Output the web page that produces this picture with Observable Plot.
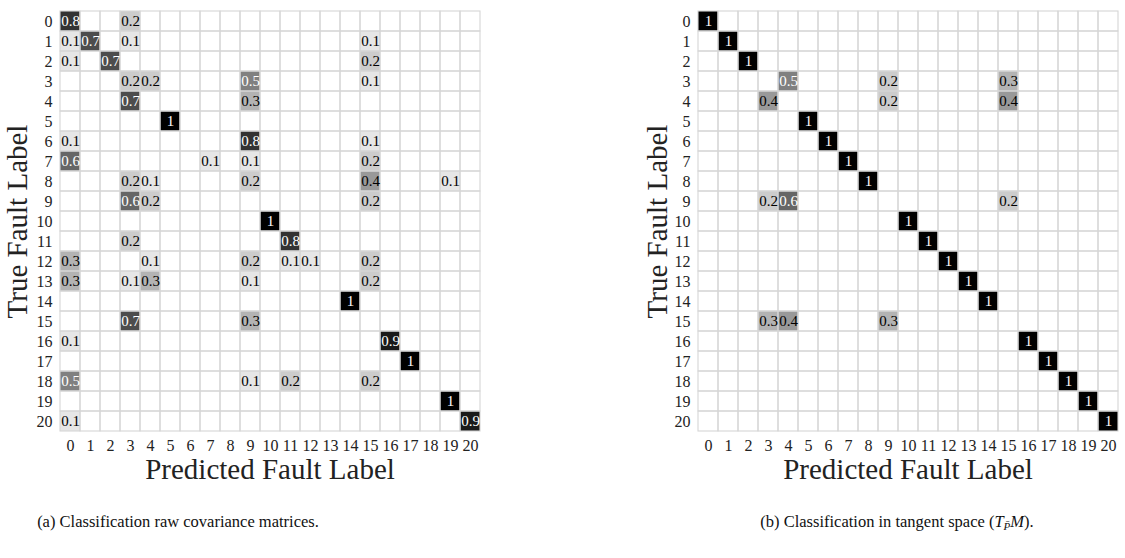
<!DOCTYPE html>
<html>
<head>
<meta charset="utf-8">
<script src="https://cdn.jsdelivr.net/npm/d3@7"></script>
<script src="https://cdn.jsdelivr.net/npm/@observablehq/plot@0.6"></script>
<style>
  html, body { margin: 0; padding: 0; background: #fff; }
  #wrap { position: relative; width: 1125px; height: 558px; overflow: hidden; font-family: "Liberation Serif", serif; }
  #left { position: absolute; left: 0; top: 0; }
  #right { position: absolute; left: 600px; top: 0; }
  .cap { position: absolute; top: 512px; font-family: "Liberation Serif", serif; font-size: 16.5px; color: #111; text-align: center; white-space: nowrap; }
  .cap sub { font-size: 11px; vertical-align: -3px; }
</style>
</head>
<body>
<div id="wrap">
  <div id="left"></div>
  <div id="right"></div>
  <div class="cap" style="left:28px;width:300px;">(a) Classification raw covariance matrices.</div>
  <div class="cap" style="left:672px;width:450px;">(b) Classification in tangent space (<i>T</i><sub><i>P̄</i></sub><i>M</i>).</div>
</div>
<script>
// Fault labels (categories on both axes)
const labels = ["0","1","2","3","4","5","6","7","8","9","10","11","12","13","14","15","16","17","18","19","20"];

// (a) raw covariance matrices: true row, predicted column, value
const aRow = [0,0, 1,1,1,1, 2,2,2, 3,3,3,3, 4,4, 5, 6,6,6, 7,7,7,7, 8,8,8,8,8, 9,9,9, 10, 11,11, 12,12,12,12,12,12, 13,13,13,13,13, 14, 15,15, 16,16, 17, 18,18,18,18, 19, 20,20];
const aCol = [0,3, 0,1,3,15, 0,2,15, 3,4,9,15, 3,9, 5, 0,9,15, 0,7,9,15, 3,4,9,15,19, 3,4,15, 10, 3,11, 0,4,9,11,12,15, 0,3,4,9,15, 14, 3,9, 0,16, 17, 0,9,11,15, 19, 0,20];
const aVal = [0.8,0.2, 0.1,0.7,0.1,0.1, 0.1,0.7,0.2, 0.2,0.2,0.5,0.1, 0.7,0.3, 1, 0.1,0.8,0.1, 0.6,0.1,0.1,0.2, 0.2,0.1,0.2,0.4,0.1, 0.6,0.2,0.2, 1, 0.2,0.8, 0.3,0.1,0.2,0.1,0.1,0.2, 0.3,0.1,0.3,0.1,0.2, 1, 0.7,0.3, 0.1,0.9, 1, 0.5,0.1,0.2,0.2, 1, 0.1,0.9];

// (b) tangent space
const bRow = [0, 1, 2, 3,3,3, 4,4,4, 5, 6, 7, 8, 9,9,9, 10, 11, 12, 13, 14, 15,15,15, 16, 17, 18, 19, 20];
const bCol = [0, 1, 2, 4,9,15, 3,9,15, 5, 6, 7, 8, 3,4,15, 10, 11, 12, 13, 14, 3,4,9, 16, 17, 18, 19, 20];
const bVal = [1, 1, 1, 0.5,0.2,0.3, 0.4,0.2,0.4, 1, 1, 1, 1, 0.2,0.6,0.2, 1, 1, 1, 1, 1, 0.3,0.4,0.3, 1, 1, 1, 1, 1];

function toRecords(rows, cols, vals) {
  return rows.map((r, i) => ({row: labels[r], col: labels[cols[i]], v: vals[i]}));
}

const allCells = [];
for (const r of labels) for (const c of labels) allCells.push({row: r, col: c});

function matrix(data, opts) {
  return Plot.plot({
    width: opts.width,
    height: 500,
    marginLeft: opts.marginLeft,
    marginRight: opts.marginRight,
    marginTop: 6,
    marginBottom: 64,
    style: "font-family: 'Liberation Serif', 'Times New Roman', serif; background: white;",
    x: {domain: labels, padding: 0, axis: null},
    y: {domain: labels, padding: 0, axis: null},
    color: {type: "linear", domain: [0, 1], range: ["white", "black"], interpolate: "rgb"},
    marks: [
      Plot.cell(data, {x: "col", y: "row", fill: "v"}),
      Plot.cell(allCells, {x: "col", y: "row", fill: "none", stroke: "#d6d6d6", strokeWidth: 1.1}),
      Plot.text(data, {x: "col", y: "row", text: d => String(d.v), fill: d => d.v >= 0.5 ? "white" : "black", fontSize: 15}),
      Plot.axisX({anchor: "bottom", tickSize: 0, tickPadding: 3, fontSize: 16, label: null, color: "#222"}),
      Plot.axisY({anchor: "left", tickSize: 0, tickPadding: 3, fontSize: 16, label: null, color: "#222"}),
      Plot.text(["True Fault Label"], {frameAnchor: "left", dx: opts.yTitleDx, rotate: -90, textAnchor: "middle", lineAnchor: "middle", fontSize: 29, fill: "#222"}),
      Plot.text(["Predicted Fault Label"], {frameAnchor: "bottom", dy: 33, textAnchor: "middle", lineAnchor: "middle", fontSize: 29, fill: "#222"})
    ]
  });
}

document.getElementById("left").append(matrix(toRecords(aRow, aCol, aVal), {width: 490, marginLeft: 55, marginRight: 6, yTitleDx: -38}));
document.getElementById("right").append(matrix(toRecords(bRow, bCol, bVal), {width: 525, marginLeft: 93, marginRight: 3, yTitleDx: -36}));
</script>
</body>
</html>
